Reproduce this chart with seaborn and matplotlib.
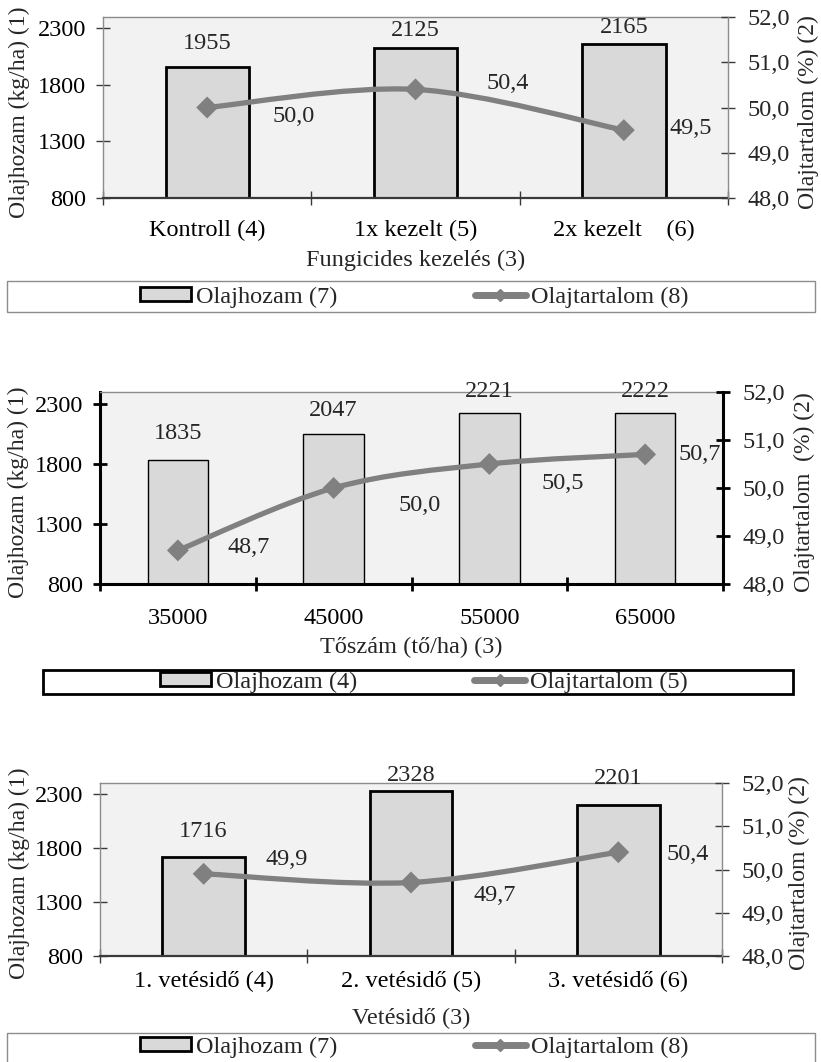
import numpy as np
import matplotlib
matplotlib.use("Agg")
import matplotlib.pyplot as plt
from matplotlib.path import Path
from matplotlib.patches import PathPatch, Rectangle, Patch
from matplotlib.lines import Line2D
import seaborn as sns

# --- data -------------------------------------------------------------------
# Fungicide treatment
fung_categories = ["Kontroll (4)", "1x kezelt (5)", "2x kezelt    (6)"]
fung_yield = [1955, 2125, 2165]
fung_oil = [50.0, 50.4, 49.5]
fung_xlabel = "Fungicides kezelés (3)"
fung_legend = ["Olajhozam (7)", "Olajtartalom (8)"]

# Plant density
density_categories = ["35000", "45000", "55000", "65000"]
density_yield = [1835, 2047, 2221, 2222]
density_oil = [48.7, 50.0, 50.5, 50.7]
density_xlabel = "Tőszám (tő/ha) (3)"
density_legend = ["Olajhozam (4)", "Olajtartalom (5)"]

# Sowing date
sowing_categories = ["1. vetésidő (4)", "2. vetésidő (5)", "3. vetésidő (6)"]
sowing_yield = [1716, 2328, 2201]
sowing_oil = [49.9, 49.7, 50.4]
sowing_xlabel = "Vetésidő (3)"
sowing_legend = ["Olajhozam (7)", "Olajtartalom (8)"]

left_ticks = [800, 1300, 1800, 2300]
right_ticks = [48.0, 49.0, 50.0, 51.0, 52.0]
left_title = "Olajhozam (kg/ha) (1)"

# --- style ------------------------------------------------------------------
sns.set_style("white")
plt.rcParams["font.family"] = ["Liberation Serif", "DejaVu Serif"]
FS = 17.5
FS_TITLE = 17
BG = "#f2f2f2"
BAR = "#d9d9d9"
LINE = "#808080"
GRID_GRAY = "#8c8c8c"
DARK = "#3a3a3a"

W, H = 821, 1062
fig = plt.figure(figsize=(W / 100, H / 100), dpi=100)
PX = FS * 100 / 72  # font size in pixels


def frac_rect(l, t, r, b):
    return [l / W, 1 - b / H, (r - l) / W, (b - t) / H]


def dec(v):
    return f"{v:.1f}".replace(".", ",")


def smooth_path(xs, ys):
    """Smoothed (Catmull-Rom style) Bezier path through the points."""
    pts = np.column_stack([xs, ys]).astype(float)
    n = len(pts)
    verts = [pts[0]]
    codes = [Path.MOVETO]
    for i in range(n - 1):
        p0 = pts[i - 1] if i > 0 else pts[i]
        p1, p2 = pts[i], pts[i + 1]
        p3 = pts[i + 2] if i + 2 < n else pts[i + 1]
        verts += [p1 + (p2 - p0) / 6, p2 - (p3 - p1) / 6, p2]
        codes += [Path.CURVE4] * 3
    return Path(verts, codes)


def draw_panel(spec, cats, yld, oil, xlabel, legend_labels):
    l, t, r, b = spec["axes"]
    pw, ph = r - l, b - t
    n = len(cats)
    heavy = spec["heavy"]
    ax = fig.add_axes(frac_rect(l, t, r, b))
    ax.set_facecolor(BG)

    sns.barplot(x=cats, y=yld, ax=ax, color=BAR, saturation=1,
                width=spec["bar_width"], edgecolor="black",
                linewidth=spec["bar_lw"], zorder=2)
    ax.set_ylim(800, 2400)
    ax.set_yticks(left_ticks)
    ax.set_yticklabels([str(v) for v in left_ticks])
    ax.set_xticks(range(n))
    ax.set_xticklabels(cats)
    ax.set_xticks(np.arange(n + 1) - 0.5, minor=True)

    tick_col = "black" if heavy else DARK
    tick_w = 2 if heavy else 1
    ax.tick_params(axis="x", which="major", length=0, pad=spec["xpad"],
                   labelsize=FS, colors="black")
    ax.tick_params(axis="x", which="minor", direction="inout", length=10,
                   width=tick_w, color=tick_col, bottom=True)
    ax.tick_params(axis="y", which="major", direction="inout", length=10,
                   width=tick_w, color=tick_col, pad=7, labelsize=FS,
                   left=True, labelcolor="black")

    for bar_i, v in enumerate(yld):
        ax.annotate(str(v), xy=(bar_i, v), xytext=(0, spec["bar_dy"][bar_i]),
                    textcoords="offset pixels", ha="center", va="center",
                    fontsize=FS, annotation_clip=False)

    ax2 = ax.twinx()
    ax2.set_ylim(48, 52)
    ax2.set_yticks(right_ticks)
    ax2.set_yticklabels([dec(v) for v in right_ticks])
    ax2.tick_params(axis="y", direction="inout", length=10, width=tick_w,
                    color=tick_col, pad=9, labelsize=FS, right=True)
    pos = np.arange(n)
    ax2.add_patch(PathPatch(smooth_path(pos, oil), facecolor="none",
                            edgecolor=LINE, lw=3.8, capstyle="round",
                            joinstyle="round", zorder=3))
    sns.scatterplot(x=pos, y=oil, ax=ax2, marker="D", s=125, color=LINE,
                    edgecolor="none", zorder=4, legend=False)
    for k, v in enumerate(oil):
        ax2.annotate(dec(v), xy=(k, v), xytext=spec["oil_off"][k],
                     textcoords="offset pixels", ha="center", va="center",
                     fontsize=FS, annotation_clip=False)
    ax.set_xlim(-0.5, n - 0.5)
    ax2.set_ylabel("")
    ax2.set_xlabel("")

    # spines
    for s in ax2.spines.values():
        s.set_visible(False)
    ax.spines["right"].set_visible(False)
    ax.spines["top"].set(color=GRID_GRAY, linewidth=1)
    if heavy:
        ax.spines["left"].set(color="black", linewidth=2.2)
        ax.spines["bottom"].set(color="black", linewidth=2.2)
        ax2.spines["right"].set(visible=True, color="black", linewidth=2.2)
    else:
        ax.spines["left"].set(color=GRID_GRAY, linewidth=1)
        ax.spines["bottom"].set(color=DARK, linewidth=1.6)
        ax2.spines["right"].set(visible=True, color=GRID_GRAY, linewidth=1)

    # axis titles
    ax.set_xlabel(xlabel, fontsize=FS)
    ax.xaxis.set_label_coords(0.5, -spec["xlab"] / ph)
    ax.xaxis.label.set_va("center")
    ycen = (b - spec["ylab_y"]) / ph
    ax.set_ylabel(left_title, fontsize=FS_TITLE)
    ax.yaxis.set_label_coords((spec["ylab_l"] - l) / pw, ycen)
    ax.yaxis.label.set(va="center", ha="center", rotation_mode="default")
    ax2.set_ylabel(spec["right_title"], fontsize=FS_TITLE)
    ax2.yaxis.set_label_coords((spec["ylab_r"] - l) / pw, ycen)
    ax2.yaxis.label.set(va="center", ha="center", rotation_mode="default",
                        rotation=90)

    # legend frame and entries
    bl, bt, br, bb = spec["legend_box"]
    fig.add_artist(Rectangle((bl / W, 1 - bb / H), (br - bl) / W, (bb - bt) / H,
                             transform=fig.transFigure, fill=False,
                             edgecolor="black" if heavy else GRID_GRAY,
                             linewidth=2 if heavy else 1))
    handles = [
        Patch(facecolor=BAR, edgecolor="black", linewidth=2),
        Line2D([], [], color=LINE, lw=5, marker="D", ms=6,
               solid_capstyle="round"),
    ]
    cx, cy = spec["legend_center"]
    fig.legend(handles, legend_labels, loc="center",
               bbox_to_anchor=(cx / W, 1 - cy / H), ncol=2, frameon=False,
               fontsize=FS, handlelength=2.1, handleheight=0.5,
               handletextpad=0.2, columnspacing=spec["legend_gap"] / PX,
               borderpad=0, borderaxespad=0)


draw_panel(dict(axes=(103, 17, 728, 198), heavy=False, bar_width=0.4, bar_lw=2,
                bar_dy=[24, 18, 16],
                oil_off=[(86, -9), (92, 6), (67, 2)],
                xpad=16, xlab=62, ylab_l=19, ylab_r=808, ylab_y=112,
                right_title="Olajtartalom (%) (2)",
                legend_box=(7, 281, 815, 312), legend_center=(414, 297),
                legend_gap=138),
           fung_categories, fung_yield, fung_oil, fung_xlabel, fung_legend)

draw_panel(dict(axes=(100, 392, 723, 584), heavy=True, bar_width=0.39, bar_lw=1,
                bar_dy=[26, 24, 22, 22],
                oil_off=[(71, 3), (86, -17), (73, -19), (55, 0)],
                xpad=17, xlab=63, ylab_l=18, ylab_r=804, ylab_y=492,
                right_title="Olajtartalom  (%) (2)",
                legend_box=(43, 670, 793, 694), legend_center=(424, 682),
                legend_gap=117),
           density_categories, density_yield, density_oil, density_xlabel,
           density_legend)

draw_panel(dict(axes=(100, 783, 722, 956), heavy=False, bar_width=0.4, bar_lw=2,
                bar_dy=[25, 15, 26],
                oil_off=[(83, 14), (84, -13), (69, -2)],
                xpad=11, xlab=62, ylab_l=19, ylab_r=799, ylab_y=873,
                right_title="Olajtartalom (%) (2)",
                legend_box=(7, 1033, 815, 1075), legend_center=(414, 1047),
                legend_gap=138),
           sowing_categories, sowing_yield, sowing_oil, sowing_xlabel,
           sowing_legend)

fig.savefig("out.png", dpi=100, facecolor="white")
